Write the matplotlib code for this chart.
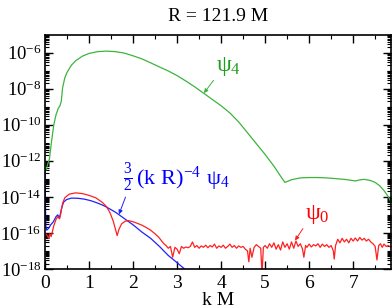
import numpy as np
import matplotlib
matplotlib.use('Agg')
import matplotlib.pyplot as plt
from matplotlib.ticker import (FixedLocator, LogLocator, LogFormatterMathtext,
                               NullFormatter, MultipleLocator)

plt.rcParams['font.family'] = ['Liberation Serif', 'DejaVu Serif']
plt.rcParams['mathtext.fontset'] = 'custom'
plt.rcParams['mathtext.rm'] = 'Liberation Serif'
plt.rcParams['mathtext.it'] = 'Liberation Serif'
plt.rcParams['mathtext.default'] = 'regular'

# psi_4 (log10 values)
k_psi4 = [0.03, 0.06, 0.10, 0.15, 0.20, 0.25, 0.30, 0.34, 0.37, 0.40, 0.45, 0.50,
          0.60, 0.70, 0.85, 1.00, 1.20, 1.40, 1.60, 1.80, 2.00, 2.20, 2.40, 2.60,
          2.80, 3.00, 3.20, 3.40, 3.60, 3.80, 4.00, 4.20, 4.40, 4.60, 4.80, 5.00,
          5.20, 5.35, 5.45, 5.50, 5.60, 5.80, 6.00, 6.20, 6.40, 6.60, 6.80, 7.00,
          7.05, 7.15, 7.25, 7.40, 7.50, 7.60, 7.70, 7.80, 7.86]
log_psi4 = [-12.5, -12.2, -11.9, -10.9, -10.0, -9.45, -9.1, -8.95, -8.7, -7.95, -7.4, -7.1,
            -6.7, -6.45, -6.2, -6.05, -5.95, -5.92, -5.95, -6.03, -6.18, -6.35, -6.57, -6.8,
            -7.02, -7.28, -7.58, -7.9, -8.25, -8.6, -8.95, -9.35, -9.85, -10.45, -11.05, -11.65,
            -12.3, -12.85, -13.2, -13.15, -13.05, -12.95, -12.93, -12.93, -12.95, -12.99, -13.03, -13.1,
            -13.12, -13.06, -13.03, -13.1, -13.2, -13.38, -13.65, -14.0, -14.3]

# 3/2 (kR)^-4 psi_4
k_fit = [0.00, 0.01, 0.02, 0.04, 0.08, 0.13, 0.19, 0.25, 0.29, 0.33, 0.37, 0.42,
         0.49, 0.60, 0.75, 0.90, 1.05, 1.20, 1.30, 1.40, 1.60, 1.80, 2.00, 2.20,
         2.40, 2.60, 2.80, 3.00, 3.22]
log_fit = [-12.5, -14.5, -15.6, -15.85, -15.75, -15.55, -15.38, -15.1, -15.0, -15.18, -14.7, -14.3,
           -14.15, -14.07, -14.08, -14.13, -14.22, -14.35, -14.45, -14.57, -14.85, -15.2, -15.55, -15.95,
           -16.3, -16.75, -17.25, -17.65, -18.1]

# psi_0
k_psi0 = [0.02, 0.05, 0.08, 0.11, 0.14, 0.20, 0.25, 0.29, 0.33, 0.36, 0.40, 0.45,
          0.55, 0.70, 0.85, 1.00, 1.15, 1.30, 1.40, 1.48, 1.55, 1.60, 1.64, 1.68,
          1.74, 1.82, 1.90, 2.00, 2.10, 2.20, 2.30, 2.40, 2.50, 2.58, 2.65, 2.70,
          2.75, 2.80, 2.85, 2.90, 2.95, 3.00, 3.05, 3.10, 3.15, 3.20, 3.25, 3.30,
          3.35, 3.40, 3.45, 3.50, 3.55, 3.60, 3.65, 3.70, 3.75, 3.80, 3.85, 3.90,
          3.95, 4.00, 4.05, 4.10, 4.15, 4.20, 4.25, 4.30, 4.35, 4.40, 4.45, 4.50,
          4.55, 4.60, 4.63, 4.66, 4.70, 4.75, 4.80, 4.85, 4.90, 4.93, 4.96, 5.00,
          5.05, 5.10, 5.15, 5.20, 5.25, 5.30, 5.35, 5.40, 5.45, 5.50, 5.55, 5.60,
          5.65, 5.70, 5.75, 5.80, 5.85, 5.88, 5.92, 5.95, 6.00, 6.05, 6.10, 6.15,
          6.20, 6.25, 6.30, 6.35, 6.40, 6.45, 6.50, 6.55, 6.57, 6.60, 6.65, 6.70,
          6.75, 6.80, 6.85, 6.90, 6.95, 7.00, 7.05, 7.10, 7.15, 7.20, 7.25, 7.30,
          7.35, 7.40, 7.45, 7.50, 7.54, 7.58, 7.62, 7.66, 7.70, 7.75, 7.80, 7.86]
log_psi0 = [-16.05, -16.15, -16.3, -16.05, -16.2, -15.6, -15.25, -15.1, -15.22, -14.9, -14.35, -14.05,
            -13.85, -13.78, -13.82, -13.92, -14.05, -14.3, -14.55, -14.9, -15.35, -15.8, -16.15, -15.8,
            -15.5, -15.35, -15.32, -15.38, -15.47, -15.57, -15.7, -15.85, -16.05, -16.23, -16.45, -16.6,
            -16.7, -16.85, -16.75, -17.35, -16.8, -16.9, -17.15, -16.75, -16.85, -16.78, -16.82, -16.75,
            -16.5, -16.8, -16.7, -16.85, -16.72, -16.8, -16.68, -16.82, -16.7, -16.78, -16.62, -16.85,
            -16.72, -16.8, -16.68, -16.85, -16.75, -16.62, -16.8, -16.7, -16.85, -16.72, -16.8, -16.75,
            -16.9, -17.0, -17.6, -16.85, -17.35, -16.8, -16.65, -16.75, -16.85, -18.3, -16.8, -16.7,
            -16.85, -16.6, -16.8, -16.55, -16.9, -16.65, -16.95, -16.5, -16.8, -16.6, -16.9, -16.5,
            -16.85, -16.45, -16.75, -16.6, -16.9, -17.35, -16.7, -16.8, -16.62, -16.78, -16.65, -16.72,
            -16.6, -16.8, -16.62, -16.75, -16.65, -16.8, -16.7, -17.0, -17.45, -16.7, -16.35, -16.55,
            -16.3, -16.5, -16.35, -16.55, -16.3, -16.45, -16.28, -16.45, -16.25, -16.4, -16.3, -16.45,
            -16.35, -16.5, -16.6, -16.75, -17.5, -16.7, -16.6, -16.8, -16.62, -16.75, -16.7, -16.8]

y_major = [1e-18, 1e-16, 1e-14, 1e-12, 1e-10, 1e-8, 1e-6]

green = '#3cb43c'
fig = plt.figure(figsize=(3.92, 3.07), dpi=100)
ax = fig.add_axes([0.1148, 0.1238, 0.8827, 0.7638])

ax.semilogy(k_psi4, 10.0 ** np.array(log_psi4), color=green, lw=0.9)
ax.semilogy(k_fit, 10.0 ** np.array(log_fit), color='#2020ff', lw=0.9)
ax.semilogy(k_psi0, 10.0 ** np.array(log_psi0), color='#ff2020', lw=0.9)

ax.set_xlim(0, 7.86)
ax.set_ylim(1e-18, 1e-5)
ax.xaxis.set_major_locator(MultipleLocator(1))
ax.xaxis.set_minor_locator(MultipleLocator(0.5))
ax.yaxis.set_major_locator(FixedLocator(y_major))
ax.yaxis.set_major_formatter(LogFormatterMathtext(base=10))
ax.yaxis.set_minor_locator(LogLocator(base=10, subs=np.arange(1, 10), numticks=40))
ax.yaxis.set_minor_formatter(NullFormatter())
ax.tick_params(which='both', direction='in', top=True, right=True)
ax.tick_params(which='major', length=6, width=1)
ax.tick_params(which='minor', length=3, width=0.8)
ax.tick_params(axis='x', labelsize=14, pad=4)
ax.tick_params(axis='y', labelsize=13.5, pad=2.5)
for s in ax.spines.values():
    s.set_linewidth(1.2)

ax.set_xlabel('k M', fontsize=14, labelpad=0)
ax.set_title('R = 121.9 M', fontsize=14, pad=10)

arr = dict(arrowstyle='-|>', lw=0.7, mutation_scale=6, shrinkA=0, shrinkB=0)
ax.annotate(r'$\psi_4$', xy=(3.61, 10 ** -8.25), xytext=(4.16, 10 ** -6.75),
            color='#1e9e1e', fontsize=17, ha='center', va='center',
            arrowprops=dict(arr, color=green, relpos=(0.0, 0.0)))
ax.annotate(r'$\psi_0$', xy=(5.68, 10 ** -16.42), xytext=(6.18, 10 ** -14.97),
            color='#ff0000', fontsize=17, ha='center', va='center',
            arrowprops=dict(arr, color='#ff2020', relpos=(0.0, 0.0)))
ax.annotate(r'$\frac{3}{2}\,(\mathrm{k\ R})^{-4}\ \psi_4$', xy=(1.68, 10 ** -14.97),
            xytext=(1.78, 10 ** -12.95), color='#0000ff', fontsize=16, ha='left', va='center',
            arrowprops=dict(arr, color='#2020ff', relpos=(0.03, 0.0)))

fig.savefig('out.png', dpi=100)
